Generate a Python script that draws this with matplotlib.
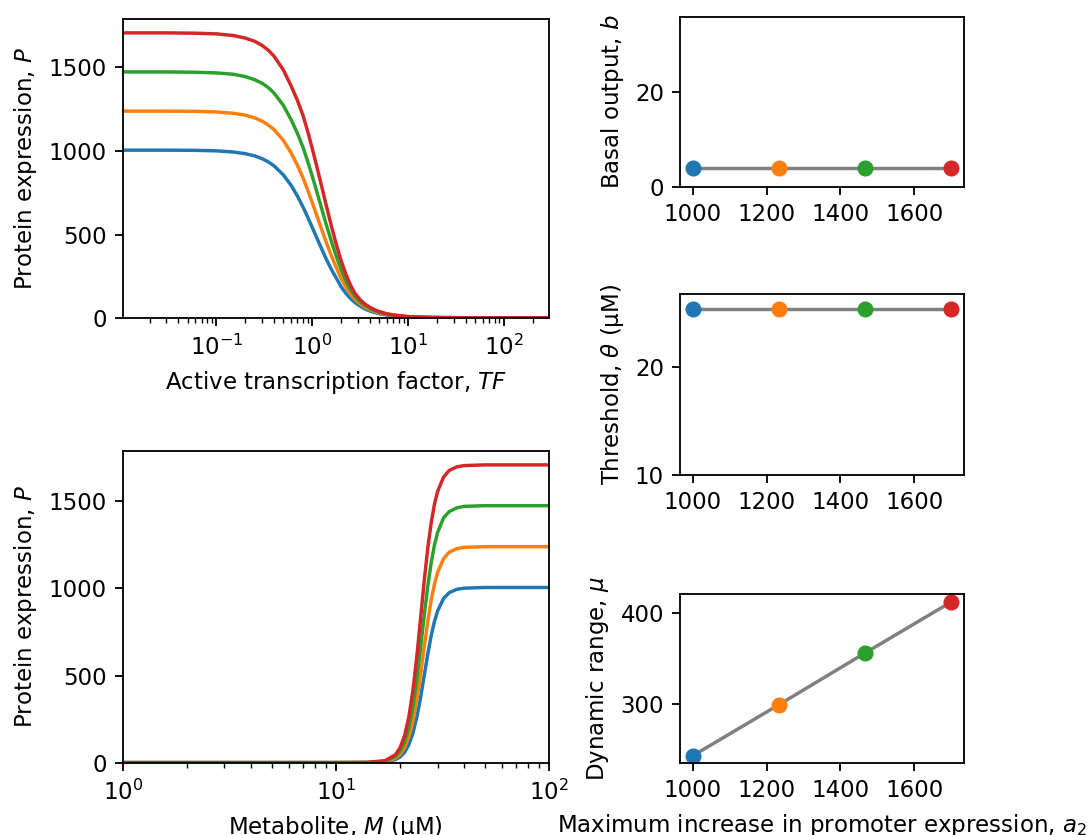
import matplotlib
matplotlib.use("Agg")
import matplotlib.pyplot as plt

colors = ['tab:blue', 'tab:orange', 'tab:green', 'tab:red']

# maximum increase in promoter expression for each curve
a2 = [1000, 1233, 1467, 1700]

# repression curves: protein expression vs active TF
tf = [0.01, 0.03, 0.06, 0.1, 0.15, 0.2, 0.25, 0.3, 0.35, 0.4, 0.5, 0.6, 0.7, 0.8,
      0.9, 1.0, 1.12, 1.25, 1.4, 1.6, 1.8, 2.0, 2.25, 2.5, 2.8, 3.2, 3.6, 4, 4.5,
      5, 6, 7, 8.5, 10, 13, 16, 20, 30, 50, 100, 300]
p_tf_blue = [1004, 1004, 1003, 1000, 993, 983, 970, 953, 933, 910, 856, 795, 730,
             665, 602, 543, 478, 416, 354, 288, 236, 189, 149, 119, 94, 71, 55, 44,
             35, 28, 20, 15, 11, 9, 7, 6, 5, 4, 4, 4, 4]
p_tf_orange = [1237, 1237, 1236, 1232, 1224, 1213, 1197, 1177, 1153, 1126, 1062,
               989, 914, 839, 764, 691, 611, 533, 454, 367, 298, 239, 186, 146, 113,
               84, 65, 52, 41, 33, 23, 17, 12, 10, 7, 6, 5, 4, 4, 4, 4]
p_tf_green = [1471, 1471, 1469, 1465, 1457, 1443, 1425, 1403, 1376, 1344, 1271,
              1187, 1105, 1022, 934, 849, 752, 658, 560, 452, 363, 291, 223, 173,
              131, 96, 75, 59, 46, 37, 26, 19, 14, 10, 8, 6, 5, 4, 4, 4, 4]
p_tf_red = [1704, 1704, 1702, 1698, 1688, 1673, 1654, 1629, 1599, 1564, 1482, 1389,
            1301, 1212, 1112, 1014, 902, 791, 674, 541, 432, 345, 262, 200, 148,
            108, 83, 66, 51, 41, 28, 21, 15, 11, 8, 6, 5, 5, 4, 4, 4]

# activation curves: protein expression vs metabolite
met = [1, 2, 5, 10, 14, 17, 19, 20, 21, 22, 23, 24, 25, 26, 27, 28, 29, 30, 32,
       34, 37, 40, 50, 70, 100]
p_m_blue = [4, 4, 4, 4, 4, 8, 21, 36, 62, 106, 173, 265, 379, 504, 624, 728, 809,
            869, 941, 974, 994, 1000, 1004, 1004, 1004]
p_m_orange = [4, 4, 4, 4, 4, 10, 28, 51, 89, 151, 243, 365, 512, 667, 810, 930,
              1022, 1089, 1168, 1205, 1226, 1233, 1237, 1237, 1237]
p_m_green = [4, 4, 4, 4, 5, 12, 38, 68, 120, 204, 324, 482, 664, 848, 1012, 1145,
             1245, 1317, 1401, 1437, 1459, 1467, 1471, 1471, 1471]
p_m_red = [4, 4, 4, 4, 5, 15, 48, 88, 156, 264, 417, 613, 832, 1046, 1230, 1373,
           1478, 1551, 1634, 1672, 1693, 1700, 1704, 1704, 1704]

# fitted parameters
basal = [4, 4, 4, 4]
threshold = [25.4, 25.4, 25.4, 25.4]
dyn_range = [243, 299, 356, 412]

p_tf = [p_tf_blue, p_tf_orange, p_tf_green, p_tf_red]
p_m = [p_m_blue, p_m_orange, p_m_green, p_m_red]

DPI = 165
fig = plt.figure(figsize=(1092 / DPI, 835 / DPI), dpi=DPI)
W, H = 1092, 835

def box(x0, y0, x1, y1):
    return [x0 / W, 1 - y1 / H, (x1 - x0) / W, (y1 - y0) / H]

ax1 = fig.add_axes(box(122.7, 19.3, 549, 318.4))
for p, c in zip(p_tf, colors):
    ax1.plot(tf, p, color=c)
ax1.set_xscale('log')
ax1.set_xlim(0.0105, 296)
ax1.set_ylim(0, 1785)
ax1.set_xlabel('Active transcription factor, $TF$')
ax1.set_ylabel('Protein expression, $P$')

ax2 = fig.add_axes(box(122.7, 450.7, 549, 763.3))
for p, c in zip(p_m, colors):
    ax2.plot(met, p, color=c)
ax2.set_xscale('log')
ax2.set_xlim(1, 100)
ax2.set_ylim(0, 1785)
ax2.set_xlabel('Metabolite, $M$ (μM)')
ax2.set_ylabel('Protein expression, $P$')

def param_panel(rect, vals):
    ax = fig.add_axes(rect)
    ax.plot(a2, vals, color='grey', zorder=1)
    for x, v, c in zip(a2, vals, colors):
        ax.plot(x, v, 'o', color=c, zorder=2)
    ax.set_xlim(965, 1735)
    ax.set_xticks([1000, 1200, 1400, 1600])
    return ax

ax3 = param_panel(box(680, 17, 964, 187), basal)
ax3.set_ylim(0, 35.8)
ax3.set_yticks([0, 20])
ax3.set_ylabel('Basal output, $b$')

ax4 = param_panel(box(680, 294, 964, 475), threshold)
ax4.set_ylim(10, 26.75)
ax4.set_yticks([10, 20])
ax4.set_ylabel(r'Threshold, $\theta$ (μM)')

ax5 = param_panel(box(680, 594.3, 964, 763.3), dyn_range)
ax5.set_ylim(234.6, 420.5)
ax5.set_yticks([300, 400])
ax5.set_ylabel(r'Dynamic range, $\mu$')
ax5.set_xlabel('Maximum increase in promoter expression, $a_2$')

fig.savefig('out.png', dpi=DPI)
